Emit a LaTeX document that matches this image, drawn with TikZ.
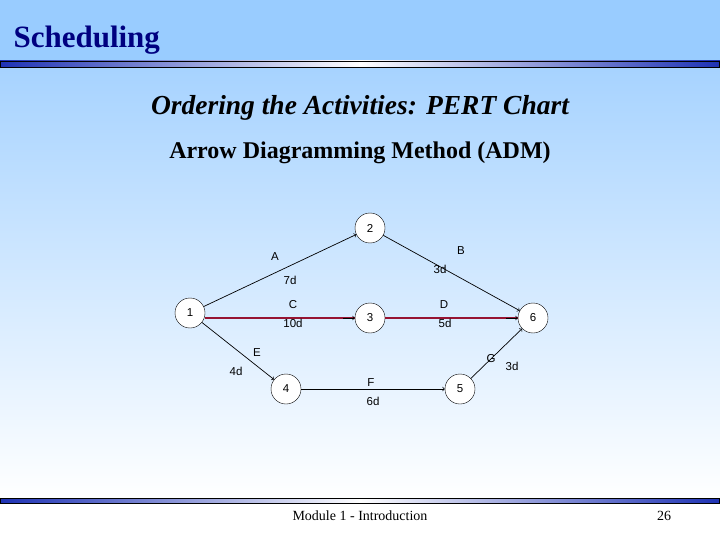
\documentclass[tikz,border=0pt]{standalone}
\usepackage{fontspec}
\setmainfont{Liberation Serif}
\newfontfamily\sansf{Liberation Sans}
\definecolor{skyb}{RGB}{153,204,255}
\definecolor{barb}{RGB}{30,50,180}
\definecolor{crit}{RGB}{150,20,50}
\definecolor{navy}{RGB}{0,0,128}
\begin{document}
\begin{tikzpicture}[x=1pt,y=-1pt,
  ev/.style={circle,draw=black,fill=white,minimum size=30pt,inner sep=0pt,font=\sansf\fontsize{11.5}{13}\selectfont},
  lab/.style={font=\sansf\fontsize{11.5}{13}\selectfont},
  act/.style={draw=black,line width=0.7pt,-to},
  crt/.style={draw=crit,line width=2.5pt},
  bar/.style={draw=black,line width=0.5pt}]
\useasboundingbox (0,0) rectangle (720,540);
\shade[top color=skyb,bottom color=white] (0,0) rectangle (720,500);
\fill[white] (0,500) rectangle (720,540);
\fill[skyb] (0,0) rectangle (720,60);
\shade[left color=barb,right color=white] (0,61) rectangle (361,67);
\shade[right color=barb,left color=white] (359,61) rectangle (720,67);
\draw[bar] (0,61) rectangle (719,67);
\shade[left color=barb,right color=white] (0,498) rectangle (361,503);
\shade[right color=barb,left color=white] (359,498) rectangle (720,503);
\draw[bar] (0,498) rectangle (719,503);
\node[anchor=west,text=navy,font=\bfseries\fontsize{31}{34}\selectfont] (title) at (10,40) {Scheduling};
\node[font=\bfseries\itshape\fontsize{27.5}{30}\selectfont] (sub) at (360,108) {Ordering the Activities: PERT Chart};
\node[font=\bfseries\fontsize{24}{27}\selectfont] (adm) at (360,153) {Arrow Diagramming Method (ADM)};
\node[ev] (n1) at (190,313) {1};
\node[ev] (n2) at (370,228) {2};
\node[ev] (n3) at (370,318) {3};
\node[ev] (n4) at (286,389) {4};
\node[ev] (n5) at (460,389) {5};
\node[ev] (n6) at (533,318) {6};
\draw[act] (n1) -- (n2);
\draw[act] (n2) -- (n6);
\draw[crt] (n1.east |- n3.west) -- (n3.west);
\draw[crt] (n3.east) -- (n6.west);
\draw[act] ([xshift=-12pt]n3.west) -- (n3.west);
\draw[act] ([xshift=-12pt]n6.west) -- (n6.west);
\draw[act] (n1) -- (n4);
\draw[act] (n4) -- (n5);
\draw[act] (n5) -- (n6);
\node[lab] (la) at (275,257) {A};
\node[lab] (da) at (290,280) {7d};
\node[lab] (lb) at (461,251) {B};
\node[lab] (db) at (440,269) {3d};
\node[lab] (lc) at (293,305) {C};
\node[lab] (dc) at (293,323) {10d};
\node[lab] (ld) at (444,305) {D};
\node[lab] (dd) at (445,323) {5d};
\node[lab] (le) at (257,353) {E};
\node[lab] (de) at (236,371) {4d};
\node[lab] (lf) at (371,383) {F};
\node[lab] (df) at (373,401) {6d};
\node[lab] (lg) at (491,359) {G};
\node[lab] (dg) at (512,366) {3d};
\node[font=\fontsize{14}{16}\selectfont] (foot) at (360,516) {Module 1 - Introduction};
\node[font=\fontsize{14}{16}\selectfont] (pg) at (664,516) {26};
\end{tikzpicture}
\end{document}
